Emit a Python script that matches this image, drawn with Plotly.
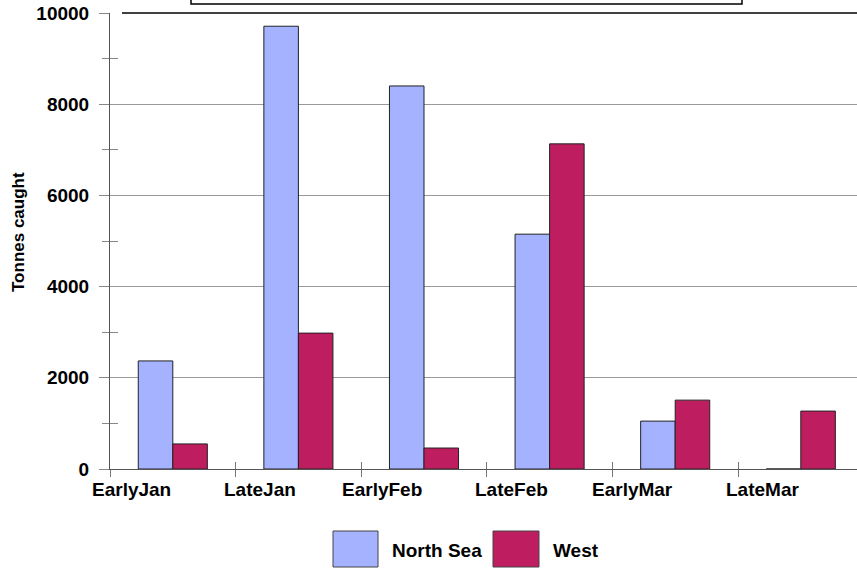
import plotly.graph_objects as go

categories = ["EarlyJan", "LateJan", "EarlyFeb", "LateFeb", "EarlyMar", "LateMar"]
north_sea = [2370, 9710, 8400, 5150, 1050, 0]
west = [550, 2980, 460, 7130, 1510, 1270]
series_names = ["North Sea", "West"]
y_tick_values = [0, 2000, 4000, 6000, 8000, 10000]
y_tick_labels = ["0", "2000", "4000", "6000", "8000", "10000"]
y_minor_values = [1000, 3000, 5000, 7000, 9000]
y_title = "Tonnes caught"

NS_COLOR = "#A4B2FF"
WEST_COLOR = "#BE1E5F"
FONT = "Liberation Sans, Arial, sans-serif"

W, H = 857, 568
ML, MR, MT, MB = 110, 0, 13, 99
PW = W - ML - MR
PH = H - MT - MB


def px_x(p):  # window pixel -> paper
    return (p - ML) / PW


def px_y(p):
    return (MT + PH - p) / PH


fig = go.Figure()
fig.add_trace(go.Bar(x=categories, y=north_sea, name=series_names[0],
                     marker=dict(color=NS_COLOR, line=dict(color="#222222", width=1)),
                     showlegend=False))
fig.add_trace(go.Bar(x=categories, y=west, name=series_names[1],
                     marker=dict(color=WEST_COLOR, line=dict(color="#222222", width=1)),
                     showlegend=False))

slot_px = 125.6
x_hi = -0.5 + PW / slot_px

fig.update_layout(
    width=W, height=H,
    margin=dict(l=ML, r=MR, t=MT, b=MB, pad=0),
    paper_bgcolor="white", plot_bgcolor="white",
    barmode="group", bargap=0.45, bargroupgap=0,
    font=dict(family=FONT, size=19, color="black", weight="bold"),
    xaxis=dict(
        type="category", range=[-0.5, x_hi], tickson="boundaries",
        ticks="outside", ticklen=7, tickcolor="#777", tickwidth=1,
        showticklabels=False, showgrid=False, zeroline=False,
        showline=True, linecolor="#555", linewidth=1,
    ),
    xaxis2=dict(
        type="category", overlaying="x", matches="x", anchor="y", side="bottom",
        tickson="boundaries", ticks="inside", ticklen=7, tickcolor="#777",
        showticklabels=False, showgrid=False, zeroline=False, showline=False,
    ),
    yaxis=dict(
        range=[0, 10000], tickvals=y_tick_values, ticktext=y_tick_labels,
        ticks="outside", ticklen=10, tickcolor="#888", tickwidth=1,
        tickfont=dict(family=FONT, size=19, color="black", weight="bold"),
        ticklabelstandoff=6, ticklabeloverflow="allow",
        showgrid=True, gridcolor="#999", gridwidth=1,
        zeroline=False, showline=True, linecolor="#555", linewidth=1,
        minor=dict(tickvals=y_minor_values, ticks="outside", ticklen=7, tickcolor="#888",
                   showgrid=False),
    ),
    yaxis2=dict(
        overlaying="y", matches="y", anchor="x", side="left",
        tickvals=y_minor_values, ticks="inside", ticklen=8, tickcolor="#888",
        showticklabels=False, showgrid=False, zeroline=False, showline=False,
    ),
)

# an invisible trace on the overlay axes so they render
fig.add_trace(go.Scatter(x=[categories[0]], y=[0], xaxis="x2", yaxis="y2",
                         mode="markers", marker=dict(opacity=0), showlegend=False,
                         hoverinfo="skip"))

# y-axis title
fig.add_annotation(x=px_x(18), xref="paper", y=px_y(232), yref="paper",
                   xanchor="center", yanchor="middle", textangle=-90, text=y_title,
                   showarrow=False,
                   font=dict(family=FONT, size=17, color="black", weight="bold"))

# category labels, right-aligned at the category centre
for c in categories:
    fig.add_annotation(x=c, xref="x", y=0, yref="paper", yanchor="top", xanchor="right",
                       text=c, showarrow=False, yshift=-8,
                       font=dict(family=FONT, size=19, color="black", weight="bold"))

# top border line of the plot
fig.add_shape(type="line", xref="paper", yref="paper", x0=px_x(122), x1=1.0, y0=1, y1=1,
              line=dict(color="black", width=1.5))

# cut-off title box at the top
fig.add_shape(type="rect", xref="paper", yref="paper",
              x0=px_x(191), x1=px_x(742), y0=px_y(4), y1=px_y(-20),
              line=dict(color="black", width=1.5), fillcolor="white")

# custom legend
legend_items = [(series_names[0], NS_COLOR, 333, 378, 390),
                (series_names[1], WEST_COLOR, 493, 539, 551)]
for name, col, sx0, sx1, tx in legend_items:
    fig.add_shape(type="rect", xref="paper", yref="paper",
                  x0=px_x(sx0), x1=px_x(sx1), y0=px_y(567), y1=px_y(531),
                  line=dict(color="#444", width=1), fillcolor=col)
    fig.add_annotation(x=px_x(tx), xref="paper", y=px_y(550), yref="paper",
                       xanchor="left", yanchor="middle", text=name, showarrow=False,
                       font=dict(family=FONT, size=19, color="black", weight="bold"))

fig.write_html("out.html", config={"displayModeBar": False},
               post_script="document.body.style.margin='0';document.body.style.overflow='hidden';")
